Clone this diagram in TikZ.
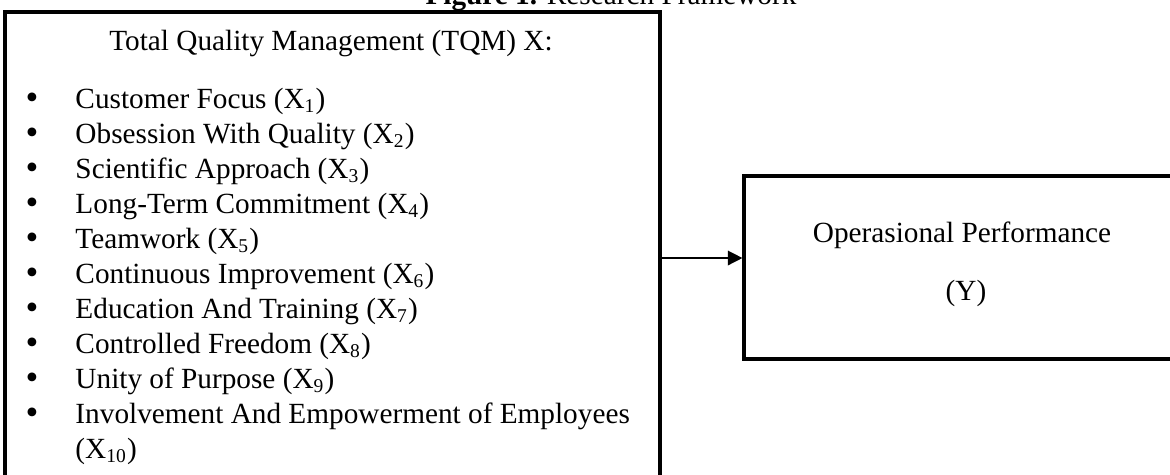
\documentclass[tikz,border=0pt]{standalone}
\usepackage{fontspec}
\setmainfont{Liberation Serif}
\usetikzlibrary{arrows.meta,fit}

\begin{document}
\begin{tikzpicture}[x=0.41pt, y=-0.41pt, >={Triangle[length=6pt,width=6pt]},
        box/.style={draw, line width=1.3pt, inner sep=0pt},
        txt/.style={anchor=base, inner sep=0pt, font=\fontsize{12}{14}\selectfont},
        dot/.style={anchor=base, inner sep=0pt, font=\fontsize{15}{15}\selectfont}]
        \useasboundingbox (0,0) rectangle (1170,474);

        % Judul gambar (terpotong di atas)
        \node[txt] (caption) at (611,4) {\textbf{Figure 1.} Research Framework};

        % Kotak kiri: TQM
        \node[box, fit={(5,12) (660,540)}] (tqm) {};
        \node[txt] (tqmtitle) at (331,50) {Total Quality Management (TQM) X:};
        \foreach \dim [count=\i] in {Customer Focus, Obsession With Quality,
                Scientific Approach, Long-Term Commitment, Teamwork,
                Continuous Improvement, Education And Training,
                Controlled Freedom, Unity of Purpose} {
            \node[dot] (bullet\i) at (32,{74+35*\i}) {\textbullet};
            \node[txt, anchor=base west] (dim\i) at (75,{73+35*\i}) {\dim\ (X\textsubscript{\i})};
        }
        \node[dot] (bullet10) at (32,424) {\textbullet};
        \node[txt, anchor=base west] (dim10) at (75,423) {Involvement And Empowerment of Employees};
        \node[txt, anchor=base west] (dim10b) at (75,458) {(X\textsubscript{10})};

        % Kotak kanan: kinerja operasional
        \node[box, fit={(744,176) (1210,359)}] (ops) {};
        \node[txt] (opstitle) at (962,242) {Operasional Performance};
        \node[txt] (opsy) at (966,300) {(Y)};

        % Panah X -> Y
        \coordinate (arrowy) at (0,258);
        \draw[->, line width=0.6pt] (tqm.east |- arrowy) -- (ops.west |- arrowy);
\end{tikzpicture}
\end{document}
